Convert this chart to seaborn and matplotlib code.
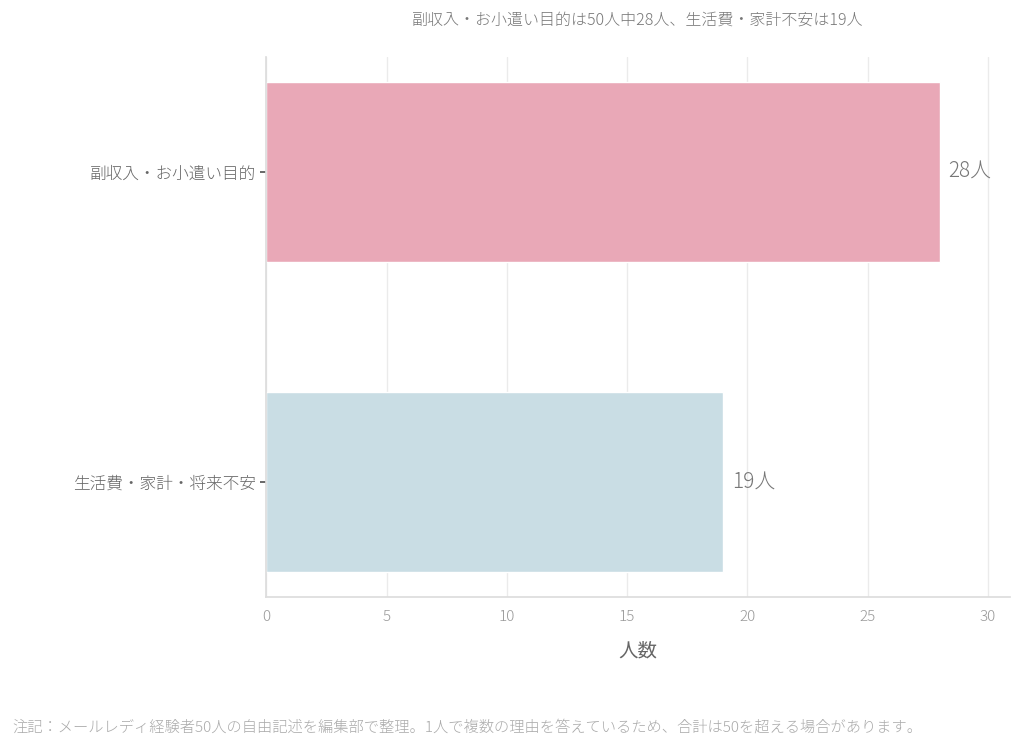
import matplotlib.pyplot as plt
import seaborn as sns
import pandas as pd

categories = ['副収入・お小遣い目的', '生活費・家計・将来不安']
counts = [28, 19]
bar_colors = ['#E9A8B7', '#C9DDE4']
title = '副収入・お小遣い目的は50人中28人、生活費・家計不安は19人'
note = '注記：メールレディ経験者50人の自由記述を編集部で整理。1人で複数の理由を答えているため、合計は50を超える場合があります。'

sns.set_theme(style='whitegrid')
plt.rcParams['font.family'] = ['Noto Sans CJK JP', 'DejaVu Sans']
plt.rcParams['font.weight'] = 'light'

df = pd.DataFrame({'cat': categories, 'n': counts})

fig = plt.figure(figsize=(10.24, 7.5), dpi=100)
ax = fig.add_axes([0.26, 0.204, 0.726, 0.72])
sns.barplot(data=df, y='cat', x='n', hue='cat', palette=bar_colors,
            orient='h', width=0.58, legend=False, ax=ax, saturation=1)

for i, v in enumerate(counts):
    ax.text(v + 0.35, i, f'{v}人', va='center', ha='left', fontsize=15, color='#777777')

ax.set_xlim(0, 30.9)
ax.set_ylim(1.37, -0.37)
ax.set_xticks(range(0, 31, 5))
ax.set_xlabel('人数', fontsize=14, color='#666666', labelpad=12)
ax.set_ylabel('')
ax.grid(axis='y', visible=False)
ax.grid(axis='x', color='#EBEBEB', linewidth=1)
ax.tick_params(axis='x', colors='#999999', labelsize=11)
ax.tick_params(axis='y', labelsize=12, labelcolor='#666666', left=True, length=4, color='#555555')
for s in ['top', 'right']:
    ax.spines[s].set_visible(False)
for s in ['left', 'bottom']:
    ax.spines[s].set_color('#DDDDDD')

fig.text(0.623, 0.973, title, ha='center', va='center', fontsize=11.5, color='#777777')
fig.text(0.012, 0.03, note, ha='left', va='center', fontsize=11, color='#AAAAAA')

fig.savefig('out.png', dpi=100)
